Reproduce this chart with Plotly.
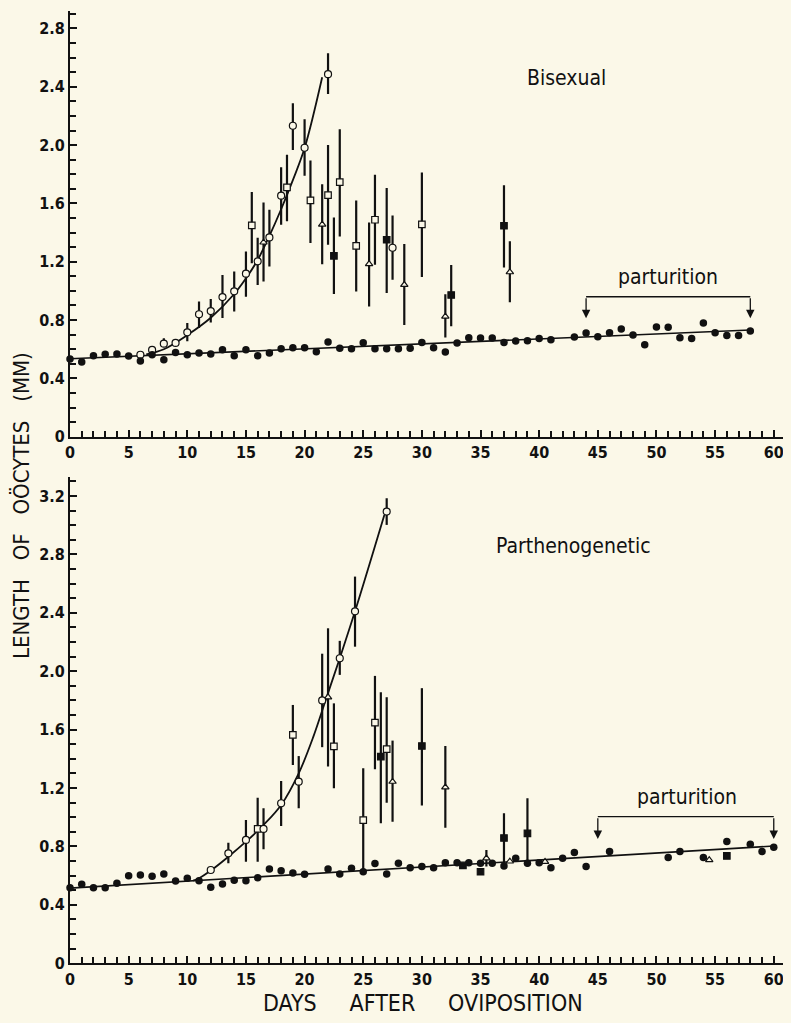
import plotly.graph_objects as go

# The page body adds an 8 px margin, so the figure is drawn 8 px smaller and all
# reference pixel positions are shifted by that offset.
OFF = 8
W, H = 791 - OFF, 1023 - OFF
BG = "#FBF8E8"
INK = "#111111"

# ---------------- Top panel (Bisexual) ----------------
top_ctrl_x = [0, 1, 2, 3, 4, 5, 6, 7, 8, 9, 10, 11, 12, 13, 14, 15, 16, 17, 18, 19, 20, 21, 22, 23,
              24, 25, 26, 27, 28, 29, 30, 31, 32, 33, 34, 35, 36, 37, 38, 39, 40, 41, 43, 44, 45, 46,
              47, 48, 49, 50, 51, 52, 53, 54, 55, 56, 57, 58]
top_ctrl_y = [0.533, 0.512, 0.556, 0.565, 0.567, 0.553, 0.519, 0.562, 0.528, 0.578, 0.562, 0.574,
              0.567, 0.597, 0.556, 0.597, 0.556, 0.574, 0.604, 0.610, 0.610, 0.583, 0.649, 0.606,
              0.604, 0.645, 0.604, 0.604, 0.604, 0.606, 0.647, 0.610, 0.581, 0.642, 0.678, 0.677,
              0.677, 0.647, 0.656, 0.658, 0.674, 0.665, 0.684, 0.711, 0.686, 0.713, 0.739, 0.697,
              0.631, 0.752, 0.750, 0.679, 0.674, 0.780, 0.713, 0.695, 0.695, 0.725]

top_ocirc_x = [6, 7, 8, 9, 10, 11, 12, 13, 14, 15, 16, 17, 18, 19, 20, 22, 27.5]
top_ocirc_y = [0.562, 0.595, 0.638, 0.643, 0.716, 0.840, 0.862, 0.958, 0.997, 1.118, 1.203, 1.367,
               1.653, 2.133, 1.982, 2.487, 1.296]
top_ocirc_hi = [0.562, 0.595, 0.675, 0.643, 0.780, 0.928, 0.944, 1.110, 1.133, 1.270, 1.365, 1.557,
                1.849, 2.288, 2.178, 2.630, 1.518]
top_ocirc_lo = [0.562, 0.595, 0.638, 0.643, 0.655, 0.745, 0.784, 0.814, 0.859, 0.960, 1.040, 1.168,
                1.454, 1.966, 1.790, 2.350, 1.077]

top_osq_x = [15.5, 18.5, 20.5, 22, 23, 24.4, 26, 30]
top_osq_y = [1.449, 1.710, 1.621, 1.657, 1.746, 1.309, 1.488, 1.456]
top_osq_hi = [1.678, 1.934, 1.895, 2.000, 2.109, 1.621, 1.797, 1.812]
top_osq_lo = [1.190, 1.477, 1.328, 1.316, 1.373, 0.996, 1.180, 1.095]

top_otri_x = [16.5, 21.5, 25.5, 28.5, 32, 37.5]
top_otri_y = [1.333, 1.456, 1.185, 1.042, 0.825, 1.129]
top_otri_hi = [1.607, 1.731, 1.469, 1.321, 0.977, 1.340]
top_otri_lo = [1.065, 1.183, 0.893, 0.767, 0.681, 0.923]

top_fsq_x = [22.5, 27, 32.5, 37]
top_fsq_y = [1.241, 1.351, 0.972, 1.447]
top_fsq_hi = [1.503, 1.706, 1.178, 1.725]
top_fsq_lo = [0.978, 0.986, 0.757, 1.161]

top_fit_x = [0, 58]
top_fit_y = [0.535, 0.732]
top_curve_x = [6.5, 8, 10, 12, 14, 15, 16, 17, 18, 19, 20, 21.5]
top_curve_y = [0.565, 0.600, 0.697, 0.816, 0.979, 1.086, 1.212, 1.377, 1.560, 1.760, 1.980, 2.466]

# ---------------- Bottom panel (Parthenogenetic) ----------------
bot_ctrl_x = [0, 1, 2, 3, 4, 5, 6, 7, 8, 9, 10, 11, 12, 13, 14, 15, 16, 17, 18, 19, 20, 22, 23, 24,
              25, 26, 27, 28, 29, 30, 31, 32, 33, 34, 35, 36, 37, 38, 39, 40, 41, 42, 43, 44, 46,
              51, 52, 54, 56, 58, 59, 60]
bot_ctrl_y = [0.518, 0.541, 0.518, 0.518, 0.548, 0.600, 0.605, 0.596, 0.612, 0.564, 0.582, 0.566,
              0.521, 0.543, 0.569, 0.566, 0.586, 0.646, 0.634, 0.618, 0.609, 0.646, 0.612, 0.651,
              0.627, 0.684, 0.612, 0.685, 0.655, 0.662, 0.655, 0.689, 0.689, 0.689, 0.685, 0.685,
              0.666, 0.719, 0.685, 0.689, 0.655, 0.719, 0.758, 0.662, 0.765, 0.724, 0.765, 0.724,
              0.834, 0.816, 0.765, 0.795]

bot_ocirc_x = [12, 13.5, 15, 16.5, 18, 19.5, 21.5, 23, 24.3, 27]
bot_ocirc_y = [0.639, 0.753, 0.845, 0.920, 1.096, 1.244, 1.800, 2.089, 2.410, 3.093]
bot_ocirc_hi = [0.639, 0.826, 0.981, 1.062, 1.249, 1.419, 2.120, 2.208, 2.648, 3.185]
bot_ocirc_lo = [0.639, 0.685, 0.696, 0.781, 0.940, 1.061, 1.480, 1.975, 2.168, 3.002]

bot_osq_x = [16, 19, 22.5, 25, 26, 27]
bot_osq_y = [0.920, 1.564, 1.486, 0.981, 1.648, 1.466]
bot_osq_hi = [1.134, 1.769, 1.780, 1.336, 1.968, 1.822]
bot_osq_lo = [0.696, 1.358, 1.199, 0.639, 1.329, 1.100]

bot_otri_x = [22, 27.5, 32, 35.5, 37.5, 40.5, 54.5]
bot_otri_y = [1.822, 1.244, 1.205, 0.719, 0.698, 0.696, 0.708]
bot_otri_hi = [2.294, 1.525, 1.488, 0.776, 0.698, 0.696, 0.708]
bot_otri_lo = [1.347, 0.970, 0.929, 0.662, 0.698, 0.696, 0.708]

bot_fsq_x = [26.5, 30, 33.5, 35, 37, 39, 56]
bot_fsq_y = [1.415, 1.488, 0.670, 0.627, 0.858, 0.890, 0.735]
bot_fsq_hi = [1.856, 1.884, 0.670, 0.627, 1.027, 1.130, 0.735]
bot_fsq_lo = [0.959, 1.080, 0.670, 0.627, 0.662, 0.662, 0.735]

bot_fit_x = [0, 60]
bot_fit_y = [0.515, 0.803]
bot_curve_x = [10.5, 11, 12, 13.5, 15, 16.5, 18, 19.5, 20.75, 21.85, 23, 24.3, 26.8]
bot_curve_y = [0.566, 0.582, 0.635, 0.730, 0.833, 0.947, 1.084, 1.301, 1.552, 1.815, 2.089, 2.410, 3.070]

# ---------------- Axis labels ----------------
x_tick_vals = [0, 5, 10, 15, 20, 25, 30, 35, 40, 45, 50, 55, 60]
x_tick_text = ["0", "5", "10", "15", "20", "25", "30", "35", "40", "45", "50", "55", "60"]
top_y_vals = [0, 0.4, 0.8, 1.2, 1.6, 2.0, 2.4, 2.8]
top_y_text = ["0", "0.4", "0.8", "1.2", "1.6", "2.0", "2.4", "2.8"]
bot_y_vals = [0, 0.4, 0.8, 1.2, 1.6, 2.0, 2.4, 2.8, 3.2]
bot_y_text = ["0", "0.4", "0.8", "1.2", "1.6", "2.0", "2.4", "2.8", "3.2"]

# parturition brackets: (start day, end day, bracket height, arrow tip height)
top_part = [44, 58, 0.960, 0.812]
bot_part = [45, 60, 1.004, 0.851]

fig = go.Figure()


def px_x(p):
    return (p - OFF) / W


def px_y(p):
    return 1 - (p - OFF) / H


def add_panel(xa, ya, ctrl_x, ctrl_y, fit_x, fit_y, curve_x, curve_y, groups):
    fig.add_trace(go.Scatter(x=fit_x, y=fit_y, mode="lines", xaxis=xa, yaxis=ya,
                             line=dict(color=INK, width=1.6), hoverinfo="skip"))
    fig.add_trace(go.Scatter(x=curve_x, y=curve_y, mode="lines", xaxis=xa, yaxis=ya,
                             line=dict(color=INK, width=1.8, shape="spline", smoothing=1.0),
                             hoverinfo="skip"))
    for gx, gy, ghi, glo, sym, fill, size in groups:
        fig.add_trace(go.Scatter(
            x=gx, y=gy, mode="markers", xaxis=xa, yaxis=ya, cliponaxis=False,
            marker=dict(symbol=sym, size=size, color=fill, line=dict(color=INK, width=1.2)),
            error_y=dict(type="data", symmetric=False,
                         array=[h - v for h, v in zip(ghi, gy)],
                         arrayminus=[v - l for l, v in zip(glo, gy)],
                         width=0, thickness=2.2, color=INK)))
    fig.add_trace(go.Scatter(x=ctrl_x, y=ctrl_y, mode="markers", xaxis=xa, yaxis=ya,
                             cliponaxis=False,
                             marker=dict(symbol="circle", size=7.5, color=INK,
                                         line=dict(width=0))))


add_panel("x", "y", top_ctrl_x, top_ctrl_y, top_fit_x, top_fit_y, top_curve_x, top_curve_y, [
    (top_osq_x, top_osq_y, top_osq_hi, top_osq_lo, "square", BG, 6.5),
    (top_otri_x, top_otri_y, top_otri_hi, top_otri_lo, "triangle-up", BG, 6.5),
    (top_fsq_x, top_fsq_y, top_fsq_hi, top_fsq_lo, "square", INK, 6.5),
    (top_ocirc_x, top_ocirc_y, top_ocirc_hi, top_ocirc_lo, "circle", BG, 7),
])
add_panel("x2", "y2", bot_ctrl_x, bot_ctrl_y, bot_fit_x, bot_fit_y, bot_curve_x, bot_curve_y, [
    (bot_osq_x, bot_osq_y, bot_osq_hi, bot_osq_lo, "square", BG, 6.5),
    (bot_otri_x, bot_otri_y, bot_otri_hi, bot_otri_lo, "triangle-up", BG, 6.5),
    (bot_fsq_x, bot_fsq_y, bot_fsq_hi, bot_fsq_lo, "square", INK, 6.5),
    (bot_ocirc_x, bot_ocirc_y, bot_ocirc_hi, bot_ocirc_lo, "circle", BG, 7),
])

TICKFONT = dict(family="Liberation Sans Narrow, DejaVu Sans Condensed, sans-serif",
                size=16, color=INK, weight="bold")
TEXTFONT = "DejaVu Sans Condensed, DejaVu Sans, sans-serif"

xcommon = dict(range=[0, 61.47], domain=[px_x(70), 1.0], showline=True, linewidth=2,
               linecolor=INK, ticks="inside", ticklen=7, tickwidth=1.6, tickcolor=INK,
               tickvals=x_tick_vals, ticktext=x_tick_text, tickfont=TICKFONT,
               minor=dict(ticks="inside", dtick=1, tick0=0, ticklen=6, tickwidth=1.6,
                          tickcolor=INK, showgrid=False),
               showgrid=False, zeroline=False, automargin=False)
ycommon = dict(showline=True, linewidth=2, linecolor=INK, ticks="inside", ticklen=7,
               tickwidth=1.6, tickcolor=INK, tickfont=TICKFONT,
               minor=dict(ticks="inside", dtick=0.1, tick0=0, ticklen=6, tickwidth=1.6,
                          tickcolor=INK, showgrid=False),
               showgrid=False, zeroline=False, automargin=False)

fig.update_layout(
    width=W, height=H, showlegend=False,
    paper_bgcolor=BG, plot_bgcolor=BG,
    margin=dict(l=0, r=0, t=0, b=0),
    xaxis=dict(anchor="y", **xcommon),
    xaxis2=dict(anchor="y2", **xcommon),
    yaxis=dict(anchor="x", domain=[px_y(436.7), px_y(11)], range=[0, 2.92],
               tickvals=top_y_vals, ticktext=top_y_text, **ycommon),
    yaxis2=dict(anchor="x2", domain=[px_y(963.3), px_y(477)], range=[0, 3.33],
                tickvals=bot_y_vals, ticktext=bot_y_text, **ycommon),
)


def label(text, cx, cy, size, angle=0):
    return dict(text=text, x=px_x(cx), y=px_y(cy), xref="paper", yref="paper",
                xanchor="center", yanchor="middle", showarrow=False, textangle=angle,
                font=dict(family=TEXTFONT, size=size, color=INK))


NB = "\u00a0"
annotations = [
    label("Bisexual", 566, 78, 21),
    label("Parthenogenetic", 573, 546, 21),
    label("parturition", 668, 277, 21),
    label("parturition", 687, 797, 21),
    label(("DAYS" + NB * 5 + "AFTER" + NB * 5 + "OVIPOSITION"), 423, 1003, 23),
    label(("LENGTH" + NB * 3 + "OF" + NB * 3 + "OÖCYTES" + NB * 3 + "(MM)"), 22, 506, 22, -90),
]

shapes = []
for (x0, x1, yb, ytip), xa, ya in [(top_part, "x", "y"), (bot_part, "x2", "y2")]:
    shapes.append(dict(type="line", xref=xa, yref=ya, x0=x0, x1=x1, y0=yb, y1=yb,
                       line=dict(color=INK, width=1.3)))
    for xv in (x0, x1):
        annotations.append(dict(x=xv, y=ytip, ax=xv, ay=yb, xref=xa, yref=ya,
                                axref=xa, ayref=ya, showarrow=True, arrowhead=2,
                                arrowsize=1.3, arrowwidth=1.3, arrowcolor=INK, text=""))

fig.update_layout(annotations=annotations, shapes=shapes)
fig.write_html("out.html", post_script="document.body.style.background='" + BG + "';")
